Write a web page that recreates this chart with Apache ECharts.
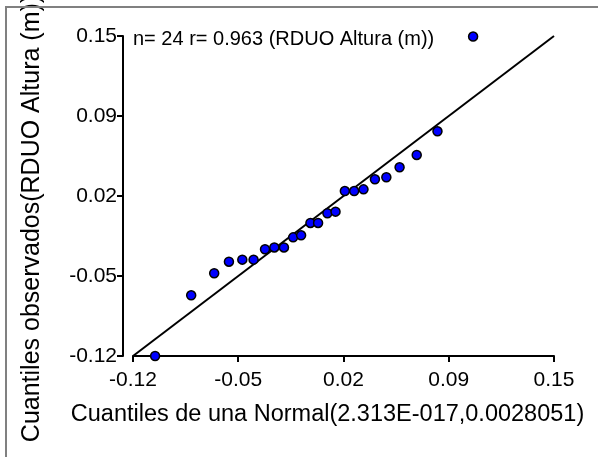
<!DOCTYPE html>
<html>
<head>
<meta charset="utf-8">
<script src="https://cdn.jsdelivr.net/npm/echarts@6/dist/echarts.min.js"></script>
<style>
  html, body { margin: 0; padding: 0; background: #ffffff; }
  #chart { width: 598px; height: 457px; }
</style>
</head>
<body>
<div id="chart"></div>
<script>
// Theoretical normal quantiles (x) and sorted observed values (y)
const normalQuantiles = [-0.1053, -0.0813, -0.0660, -0.0562, -0.0473, -0.0398, -0.0322, -0.0260,
  -0.0196, -0.0135, -0.0082, -0.0020, 0.0031, 0.0093, 0.0147, 0.0209,
  0.0271, 0.0333, 0.0409, 0.0485, 0.0573, 0.0687, 0.0825, 0.1062];
const observedQuantiles = [-0.1200, -0.0669, -0.0476, -0.0375, -0.0357, -0.0357, -0.0266, -0.0250,
  -0.0250, -0.0162, -0.0144, -0.0036, -0.0036, 0.0049, 0.0063, 0.0243,
  0.0243, 0.0258, 0.0346, 0.0364, 0.0451, 0.0559, 0.0766, 0.1595];

// Axis range and the printed tick labels
const axisMin = -0.12;
const axisMax = 0.16;
const axisStep = 0.07;
const xTickLabels = ['-0.12', '-0.05', '0.02', '0.09', '0.15'];
const yTickLabels = ['-0.12', '-0.05', '0.02', '0.09', '0.15'];

const correlation = '0.963';
const variableName = 'RDUO Altura (m)';
const xTitle = 'Cuantiles de una Normal(2.313E-017,0.0028051)';
const yTitle = 'Cuantiles observados(' + variableName + ')';

const points = normalQuantiles.map((q, i) => [q, observedQuantiles[i]]);
const refLine = [[axisMin, axisMin], [axisMax, axisMax]];

function tickFormatter(labels) {
  return function (v) {
    const idx = Math.round((v - axisMin) / axisStep);
    return labels[idx] !== undefined ? labels[idx] : '';
  };
}

const FONT = '"Liberation Sans", Arial, sans-serif';

const axisCommon = {
  type: 'value',
  min: axisMin,
  max: axisMax,
  interval: axisStep,
  splitLine: { show: false },
  axisLine: { show: true, onZero: false, lineStyle: { color: '#000', width: 2 } },
  axisTick: { show: true, inside: false, length: 6, lineStyle: { color: '#000', width: 2 } },
  nameLocation: 'middle',
};

const chart = echarts.init(document.getElementById('chart'), null, { renderer: 'canvas' });
chart.setOption({
  backgroundColor: '#ffffff',
  animation: false,
  title: {
    text: 'n= ' + normalQuantiles.length + ' r= ' + correlation + ' (' + variableName + ')',
    left: 133,
    top: 29,
    padding: 0,
    textStyle: { fontFamily: FONT, fontSize: 20, fontWeight: 'normal', color: '#000' }
  },
  graphic: [{
    type: 'rect',
    shape: { x: 6, y: 7, width: 700, height: 600 },
    style: { fill: 'none', stroke: '#808080', lineWidth: 2 },
    z: 100,
    silent: true
  }],
  grid: { left: 133, right: 44, top: 36, bottom: 101, containLabel: false, outerBoundsMode: 'none' },
  xAxis: Object.assign({}, axisCommon, {
    name: xTitle,
    nameGap: 47,
    nameTextStyle: { fontFamily: FONT, fontSize: 23.5, color: '#000', padding: [0, 32, 0, 0] },
    axisLabel: { fontFamily: FONT, fontSize: 21, color: '#000', margin: 14, formatter: tickFormatter(xTickLabels) }
  }),
  yAxis: Object.assign({}, axisCommon, {
    offset: 10,
    name: yTitle,
    nameGap: 78,
    nameRotate: 90,
    nameTextStyle: { fontFamily: FONT, fontSize: 25, color: '#000', padding: [0, 45, 0, 0] },
    axisLabel: { fontFamily: FONT, fontSize: 21, color: '#000', margin: 6, formatter: tickFormatter(yTickLabels) }
  }),
  series: [
    {
      type: 'line',
      data: refLine,
      symbol: 'none',
      lineStyle: { color: '#000', width: 2 },
      z: 1,
      silent: true
    },
    {
      type: 'scatter',
      data: points,
      clip: false,
      symbol: 'circle',
      symbolSize: 9,
      itemStyle: { color: '#0000ff', borderColor: '#000', borderWidth: 1.5, opacity: 1 },
      z: 2
    }
  ]
});
</script>
</body>
</html>
